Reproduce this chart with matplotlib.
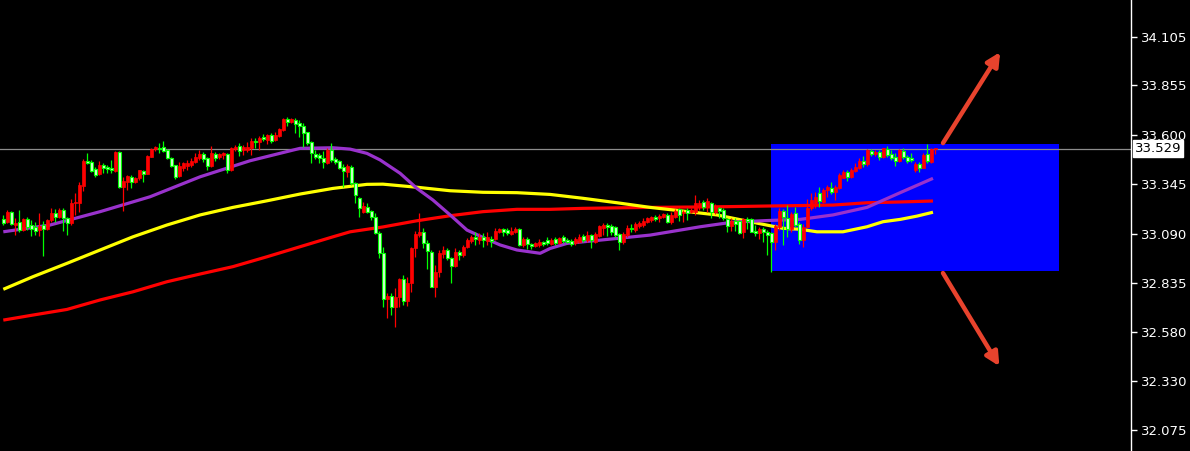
import matplotlib
matplotlib.use("Agg")
import matplotlib.pyplot as plt
from matplotlib.patches import Rectangle
from matplotlib.transforms import blended_transform_factory

# ---------------- data ----------------
opens = [
33.163, 33.151, 33.203, 33.134, 33.151, 33.108, 33.163, 33.134, 33.122, 33.108,
33.134, 33.112, 33.160, 33.194, 33.174, 33.211, 33.168, 33.143, 33.246, 33.249,
33.335, 33.466, 33.458, 33.422, 33.397, 33.444, 33.432, 33.430, 33.414, 33.512,
33.329, 33.357, 33.380, 33.357, 33.375, 33.414, 33.397, 33.487, 33.525, 33.530,
33.538, 33.521, 33.478, 33.444, 33.387, 33.427, 33.439, 33.444, 33.461, 33.478,
33.501, 33.478, 33.439, 33.501, 33.484, 33.494, 33.501, 33.418, 33.525, 33.543,
33.521, 33.521, 33.530, 33.568, 33.561, 33.587, 33.573, 33.599, 33.573, 33.595,
33.625, 33.681, 33.667, 33.676, 33.659, 33.647, 33.613, 33.561, 33.499, 33.495,
33.478, 33.453, 33.521, 33.475, 33.464, 33.435, 33.409, 33.435, 33.349, 33.272,
33.203, 33.225, 33.207, 33.174, 33.094, 32.987, 32.750, 32.767, 32.709, 32.764,
32.853, 32.743, 32.833, 33.014, 33.082, 33.099, 33.039, 32.996, 32.815, 32.893,
32.984, 33.005, 32.962, 32.922, 32.996, 32.979, 33.018, 33.053, 33.073, 33.056,
33.073, 33.053, 33.060, 33.060, 33.099, 33.112, 33.108, 33.087, 33.099, 33.112,
33.031, 33.060, 33.036, 33.025, 33.031, 33.048, 33.056, 33.036, 33.060, 33.042,
33.070, 33.056, 33.053, 33.042, 33.048, 33.077, 33.056, 33.082, 33.048, 33.079,
33.117, 33.134, 33.130, 33.125, 33.086, 33.045, 33.082, 33.120, 33.108, 33.130,
33.134, 33.151, 33.160, 33.174, 33.168, 33.177, 33.186, 33.148, 33.177, 33.216,
33.194, 33.211, 33.199, 33.203, 33.228, 33.254, 33.237, 33.246, 33.203, 33.220,
33.211, 33.165, 33.130, 33.155, 33.155, 33.099, 33.165, 33.165, 33.103, 33.091,
33.113, 33.096, 33.091, 33.045, 33.125, 33.206, 33.171, 33.113, 33.194, 33.137,
33.056, 33.125, 33.220, 33.246, 33.298, 33.254, 33.315, 33.327, 33.303, 33.327,
33.378, 33.406, 33.383, 33.413, 33.430, 33.464, 33.447, 33.516, 33.499, 33.512,
33.487, 33.527, 33.499, 33.487, 33.464, 33.516, 33.487, 33.478, 33.418, 33.447,
33.430, 33.499, 33.461, 33.525]

closes = [
33.143, 33.203, 33.139, 33.143, 33.108, 33.163, 33.122, 33.112, 33.104, 33.129,
33.112, 33.160, 33.194, 33.174, 33.211, 33.168, 33.146, 33.249, 33.254, 33.341,
33.466, 33.453, 33.414, 33.392, 33.444, 33.430, 33.422, 33.418, 33.511, 33.329,
33.363, 33.387, 33.357, 33.375, 33.418, 33.397, 33.490, 33.525, 33.538, 33.525,
33.518, 33.478, 33.439, 33.380, 33.439, 33.453, 33.456, 33.466, 33.487, 33.501,
33.473, 33.439, 33.507, 33.478, 33.501, 33.504, 33.418, 33.530, 33.538, 33.516,
33.538, 33.538, 33.568, 33.561, 33.585, 33.577, 33.599, 33.568, 33.599, 33.630,
33.681, 33.667, 33.681, 33.654, 33.647, 33.607, 33.556, 33.504, 33.487, 33.478,
33.458, 33.521, 33.470, 33.458, 33.430, 33.413, 33.440, 33.349, 33.289, 33.220,
33.232, 33.203, 33.177, 33.094, 32.987, 32.750, 32.767, 32.709, 32.764, 32.853,
32.743, 32.833, 33.014, 33.087, 33.099, 33.039, 33.001, 32.815, 32.893, 32.987,
33.005, 32.962, 32.922, 32.996, 32.979, 33.022, 33.056, 33.070, 33.060, 33.073,
33.056, 33.073, 33.053, 33.104, 33.112, 33.099, 33.091, 33.104, 33.112, 33.031,
33.060, 33.036, 33.025, 33.039, 33.048, 33.036, 33.039, 33.056, 33.042, 33.065,
33.053, 33.048, 33.036, 33.060, 33.073, 33.056, 33.082, 33.056, 33.086, 33.130,
33.134, 33.125, 33.096, 33.082, 33.048, 33.086, 33.120, 33.113, 33.137, 33.143,
33.155, 33.168, 33.174, 33.165, 33.182, 33.189, 33.148, 33.186, 33.206, 33.186,
33.203, 33.194, 33.211, 33.246, 33.246, 33.228, 33.258, 33.203, 33.234, 33.206,
33.168, 33.130, 33.155, 33.137, 33.091, 33.165, 33.155, 33.099, 33.091, 33.113,
33.096, 33.082, 33.045, 33.130, 33.206, 33.177, 33.113, 33.189, 33.134, 33.056,
33.125, 33.223, 33.263, 33.280, 33.258, 33.315, 33.332, 33.303, 33.332, 33.392,
33.409, 33.383, 33.418, 33.435, 33.464, 33.447, 33.521, 33.499, 33.512, 33.487,
33.530, 33.495, 33.481, 33.464, 33.521, 33.487, 33.464, 33.470, 33.447, 33.430,
33.495, 33.464, 33.527, 33.529]

highs = [
33.186, 33.211, 33.206, 33.170, 33.211, 33.170, 33.175, 33.160, 33.151, 33.194,
33.156, 33.163, 33.220, 33.215, 33.220, 33.220, 33.177, 33.267, 33.298, 33.358,
33.473, 33.504, 33.470, 33.435, 33.466, 33.456, 33.444, 33.470, 33.518, 33.518,
33.383, 33.392, 33.392, 33.380, 33.420, 33.418, 33.495, 33.530, 33.542, 33.556,
33.569, 33.525, 33.487, 33.446, 33.461, 33.461, 33.470, 33.478, 33.504, 33.521,
33.512, 33.484, 33.542, 33.512, 33.504, 33.512, 33.507, 33.538, 33.547, 33.556,
33.547, 33.561, 33.582, 33.582, 33.595, 33.602, 33.602, 33.608, 33.613, 33.636,
33.685, 33.693, 33.688, 33.688, 33.676, 33.659, 33.616, 33.568, 33.521, 33.504,
33.516, 33.530, 33.556, 33.487, 33.470, 33.447, 33.447, 33.444, 33.358, 33.277,
33.254, 33.249, 33.211, 33.194, 33.104, 33.018, 32.781, 32.781, 32.807, 32.859,
32.875, 32.864, 33.022, 33.104, 33.194, 33.117, 33.056, 33.005, 32.927, 33.005,
33.025, 33.014, 32.970, 33.014, 33.005, 33.031, 33.065, 33.082, 33.099, 33.094,
33.091, 33.099, 33.077, 33.117, 33.120, 33.117, 33.117, 33.125, 33.125, 33.117,
33.073, 33.070, 33.042, 33.048, 33.060, 33.053, 33.070, 33.065, 33.070, 33.070,
33.082, 33.065, 33.060, 33.073, 33.087, 33.087, 33.104, 33.086, 33.099, 33.134,
33.143, 33.143, 33.137, 33.130, 33.091, 33.099, 33.134, 33.137, 33.151, 33.155,
33.168, 33.177, 33.182, 33.186, 33.189, 33.194, 33.194, 33.203, 33.216, 33.223,
33.211, 33.220, 33.220, 33.289, 33.263, 33.263, 33.272, 33.251, 33.241, 33.228,
33.220, 33.171, 33.168, 33.168, 33.160, 33.171, 33.177, 33.171, 33.134, 33.125,
33.125, 33.108, 33.099, 33.137, 33.220, 33.216, 33.237, 33.199, 33.228, 33.151,
33.137, 33.268, 33.298, 33.306, 33.332, 33.323, 33.341, 33.354, 33.341, 33.401,
33.418, 33.418, 33.427, 33.453, 33.478, 33.492, 33.527, 33.527, 33.521, 33.521,
33.533, 33.543, 33.521, 33.504, 33.527, 33.530, 33.495, 33.504, 33.458, 33.458,
33.504, 33.551, 33.533, 33.533]

lows = [
33.134, 33.143, 33.136, 33.082, 33.099, 33.103, 33.108, 33.077, 33.082, 33.077,
32.974, 33.108, 33.151, 33.151, 33.168, 33.104, 33.082, 33.134, 33.186, 33.203,
33.311, 33.450, 33.409, 33.380, 33.392, 33.401, 33.401, 33.401, 33.409, 33.323,
33.208, 33.315, 33.324, 33.349, 33.366, 33.357, 33.395, 33.484, 33.518, 33.504,
33.512, 33.473, 33.435, 33.370, 33.380, 33.414, 33.418, 33.435, 33.453, 33.470,
33.461, 33.418, 33.435, 33.466, 33.473, 33.473, 33.404, 33.414, 33.518, 33.492,
33.495, 33.512, 33.495, 33.530, 33.521, 33.568, 33.551, 33.556, 33.568, 33.590,
33.619, 33.647, 33.659, 33.608, 33.590, 33.538, 33.547, 33.453, 33.475, 33.453,
33.430, 33.447, 33.461, 33.447, 33.423, 33.332, 33.383, 33.341, 33.246, 33.174,
33.194, 33.194, 33.160, 33.087, 32.962, 32.712, 32.652, 32.669, 32.609, 32.712,
32.721, 32.716, 32.789, 32.970, 33.074, 33.013, 32.905, 32.812, 32.764, 32.867,
32.962, 32.953, 32.833, 32.918, 32.953, 32.970, 33.013, 33.039, 33.031, 33.036,
33.022, 33.031, 33.019, 33.056, 33.091, 33.077, 33.082, 33.082, 33.091, 33.025,
33.022, 33.008, 33.008, 33.019, 33.022, 33.025, 33.031, 33.031, 33.031, 33.036,
33.039, 33.039, 33.025, 33.031, 33.039, 33.048, 33.048, 33.017, 33.039, 33.073,
33.082, 33.079, 33.082, 33.073, 33.005, 33.034, 33.073, 33.099, 33.099, 33.117,
33.125, 33.143, 33.147, 33.155, 33.151, 33.168, 33.143, 33.138, 33.168, 33.155,
33.151, 33.160, 33.194, 33.186, 33.211, 33.211, 33.203, 33.168, 33.189, 33.168,
33.160, 33.099, 33.103, 33.103, 33.086, 33.068, 33.113, 33.096, 33.079, 33.062,
33.048, 32.979, 32.893, 33.005, 33.108, 33.031, 33.074, 33.096, 33.125, 33.034,
33.022, 33.120, 33.211, 33.223, 33.228, 33.246, 33.280, 33.292, 33.263, 33.320,
33.375, 33.361, 33.378, 33.406, 33.423, 33.435, 33.440, 33.492, 33.492, 33.470,
33.478, 33.487, 33.470, 33.440, 33.461, 33.475, 33.453, 33.461, 33.406, 33.406,
33.427, 33.453, 33.453, 33.499]

# moving averages (sampled at bar index positions)
ma_fast_idx = [0, 11.7, 24.2, 36.7, 49.2, 61.7, 74.2, 82.4, 86.7, 90.9, 94.2, 99.2,
               103.4, 107.4, 111.7, 115.9, 119.9, 124.2, 128.4, 134.2, 136.7, 140.9,
               149.2, 161.7, 174.2, 182.4, 190.9, 199.2, 207.4, 215.9, 224.2, 232.4]
ma_fast = [33.099, 33.134, 33.203, 33.280, 33.383, 33.466, 33.530, 33.533, 33.526,
           33.504, 33.470, 33.401, 33.323, 33.263, 33.186, 33.108, 33.070, 33.031,
           33.005, 32.988, 33.013, 33.039, 33.056, 33.082, 33.125, 33.149, 33.157,
           33.163, 33.186, 33.225, 33.301, 33.375]

ma_mid_idx = [0, 7.4, 15.9, 24.2, 32.4, 40.9, 49.2, 57.4, 65.9, 74.2, 82.4, 90.9,
              94.9, 103.4, 111.7, 119.9, 128.4, 136.7, 144.9, 153.4, 161.7, 169.9,
              178.4, 186.7, 194.9, 199.2, 203.4, 209.9, 215.9, 219.9, 224.2, 228.4, 232.4]
ma_mid = [32.802, 32.867, 32.936, 33.005, 33.073, 33.134, 33.186, 33.225, 33.259,
          33.294, 33.323, 33.344, 33.345, 33.329, 33.311, 33.303, 33.301, 33.292,
          33.272, 33.249, 33.225, 33.206, 33.186, 33.151, 33.117, 33.112, 33.099,
          33.099, 33.125, 33.151, 33.163, 33.180, 33.200]

ma_slow_idx = [0, 7.4, 15.9, 24.2, 32.4, 40.9, 49.2, 57.4, 65.9, 74.2, 82.4, 86.7,
               94.9, 103.4, 111.7, 119.9, 128.4, 136.7, 144.9, 161.7, 178.4, 190.9,
               207.4, 215.9, 224.2, 232.4]
ma_slow = [32.643, 32.669, 32.698, 32.747, 32.789, 32.841, 32.881, 32.919, 32.970,
           33.022, 33.073, 33.099, 33.124, 33.156, 33.182, 33.203, 33.215, 33.215,
           33.220, 33.225, 33.228, 33.232, 33.237, 33.249, 33.253, 33.258]

y_ticks = [34.105, 33.855, 33.600, 33.345, 33.090, 32.835, 32.580, 32.330, 32.075]
y_tick_labels = ["34.105", "33.855", "33.600", "33.345", "33.090",
                 "32.835", "32.580", "32.330", "32.075"]
last_price = 33.529
box_x = (191.9, 263.9)
box_y = (32.896, 33.552)
arrow_up = ((234.9, 33.557), (249.2, 34.027))
arrow_down = ((234.9, 32.886), (249.0, 32.405))

# ---------------- figure ----------------
W, H = 1190, 451
fig = plt.figure(figsize=(W / 100, H / 100), dpi=100, facecolor="black")
ax = fig.add_axes([0, 0, 1131 / W, 1])
ax.set_facecolor("black")
ax.set_xlim(-0.825, 281.9)
ax.set_ylim(31.967, 34.296)

# blue rectangle (background object)
ax.add_patch(Rectangle((box_x[0], box_y[0]), box_x[1] - box_x[0], box_y[1] - box_y[0],
                       facecolor="#0000FF", edgecolor="none", zorder=1))

# current price line
ax.axhline(last_price, color="#8c8c8c", lw=0.9, zorder=2)

# moving averages
ax.plot(ma_slow_idx, ma_slow, color="#FF0000", lw=2.3, zorder=3, solid_capstyle="butt")
ax.plot(ma_mid_idx, ma_mid, color="#FFFF00", lw=2.3, zorder=3, solid_capstyle="butt")
ax.plot(ma_fast_idx, ma_fast, color="#9932CC", lw=2.3, zorder=3, solid_capstyle="butt")

# candles
n = min(len(opens), len(closes), len(highs), len(lows))
bw = 0.75
min_h = 0.006
for i in range(n):
    o, c = opens[i], closes[i]
    h = max(highs[i], o, c)
    l = min(lows[i], o, c)
    up = c >= o
    col = "#FF0000" if up else "#00FF00"
    ax.vlines(i, l, h, color=col, lw=0.9, zorder=4)
    bot = min(o, c)
    hgt = max(abs(c - o), min_h)
    if up:
        ax.add_patch(Rectangle((i - bw / 2, bot), bw, hgt, facecolor=col,
                               edgecolor=col, lw=0.5, zorder=5))
    else:
        ax.add_patch(Rectangle((i - bw / 2, bot), bw, hgt, facecolor="#d0ffd0",
                               edgecolor=col, lw=0.8, zorder=5))

# arrows
for (start, end) in (arrow_up, arrow_down):
    ax.annotate("", xy=end, xytext=start,
                arrowprops=dict(arrowstyle="-|>", color="#E8432D", lw=3.2,
                                mutation_scale=20, shrinkA=0, shrinkB=0),
                zorder=6)

# axes styling
for s in ["top", "left", "bottom"]:
    ax.spines[s].set_visible(False)
ax.spines["right"].set_color("white")
ax.spines["right"].set_linewidth(1.0)
ax.set_xticks([])
ax.yaxis.tick_right()
ax.set_yticks(y_ticks)
ax.set_yticklabels(y_tick_labels)
ax.tick_params(axis="y", colors="white", length=4, width=1, pad=3,
               labelsize=9.5, labelcolor="white")

# current price label
tr = blended_transform_factory(ax.transAxes, ax.transData)
ax.text(1.0 + 4 / 1131, last_price, "33.529", transform=tr, ha="left", va="center",
        fontsize=9.5, color="black", zorder=10, clip_on=False,
        bbox=dict(boxstyle="square,pad=0.15", facecolor="white", edgecolor="white"))

fig.savefig("out.png", dpi=100, facecolor="black")
